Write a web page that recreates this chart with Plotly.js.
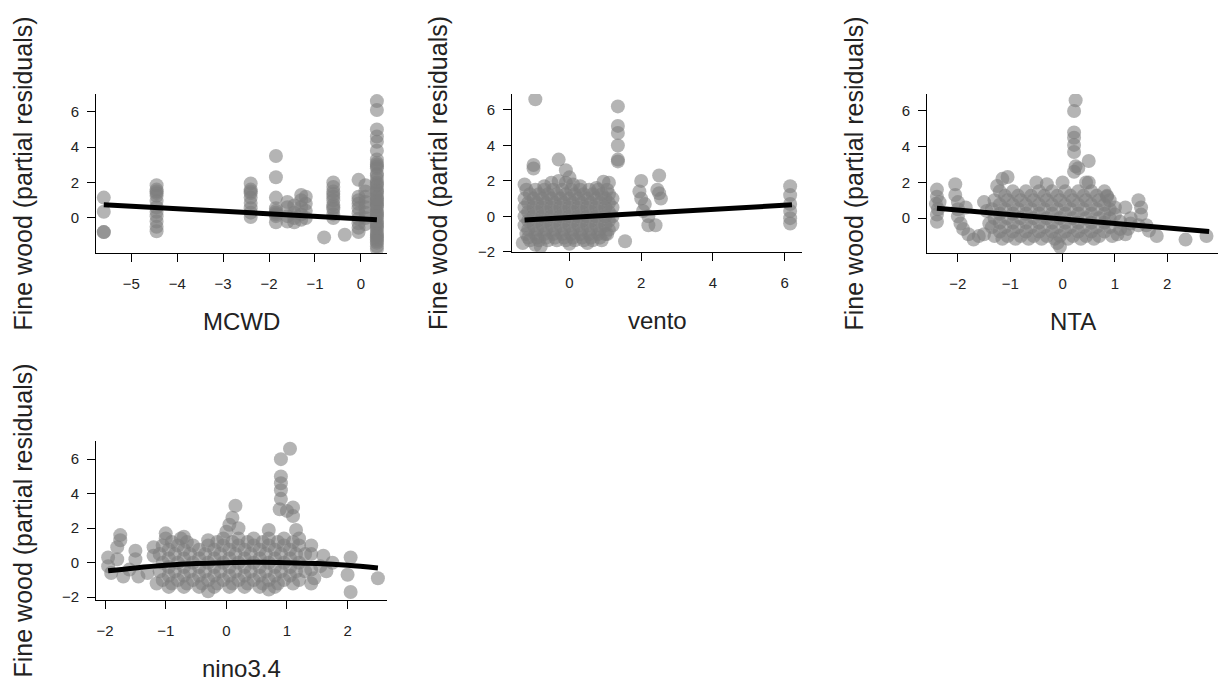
<!DOCTYPE html>
<html>
<head>
<meta charset="utf-8">
<script src="https://cdn.plot.ly/plotly-3.0.1.min.js"></script>
<style>html,body{margin:0;padding:0;background:#fff;}#chart{width:1222px;height:683px;}</style>
</head>
<body>
<div id="chart"></div>
<script>
// ---------- data ----------
const yTitle = "Fine wood (partial residuals)";
const xTitles = ["MCWD", "vento", "NTA", "nino3.4"];

// MCWD partial residuals [x, y]
const mcwdPts = [
 [-5.6,1.15],[-5.6,0.35],[-5.6,-0.8],[-5.6,-0.8],
 [-4.45,1.85],[-4.45,1.6],[-4.45,1.4],[-4.45,1.25],[-4.45,0.95],[-4.45,0.6],[-4.45,0.35],[-4.45,0.1],[-4.45,-0.2],[-4.45,-0.5],[-4.45,-0.75],[-4.45,1.5],
 [-2.4,1.95],[-2.4,1.6],[-2.4,1.4],[-2.4,1.15],[-2.4,0.85],[-2.4,0.55],[-2.4,0.3],[-2.4,0.05],[-2.4,1.5],
 [-1.85,3.5],[-1.85,2.3],[-1.85,1.15],[-1.85,0.55],[-1.85,0.3],[-1.85,0.1],[-1.85,-0.25],[-1.85,0.4],[-1.85,0.2],
 [-1.6,0.6],[-1.6,0.9],[-1.6,0.1],[-1.6,-0.2],
 [-1.45,0.3],[-1.45,0.0],[-1.45,-0.25],[-1.45,0.7],
 [-1.3,1.3],[-1.3,1.0],[-1.3,0.6],[-1.3,0.2],[-1.3,-0.1],
 [-1.2,1.2],[-1.2,0.8],[-1.2,0.4],[-1.2,0.0],
 [-0.8,-1.1],
 [-0.6,2.0],[-0.6,1.75],[-0.6,1.5],[-0.6,1.2],[-0.6,1.0],[-0.6,0.75],[-0.6,0.5],[-0.6,0.2],[-0.6,0.0],[-0.6,1.35],[-0.6,0.6],
 [-0.35,-0.95],
 [-0.05,2.15],[-0.05,1.2],[-0.05,1.0],[-0.05,0.8],[-0.05,0.55],[-0.05,0.25],[-0.05,-0.05],[-0.05,-0.3],[-0.05,-0.55],[-0.05,-0.8],
 [0.1,1.85],[0.1,1.5],[0.1,1.2],[0.1,0.9],[0.1,0.6],[0.1,0.3],[0.1,0.0],[0.1,-0.35],
 [0.35,6.6],[0.35,6.1],[0.35,5.0],[0.35,4.6],[0.35,4.3],[0.35,3.8],[0.35,3.3],[0.35,3.0],[0.35,2.8],[0.35,2.5],
 [0.35,2.2],[0.35,2.0],[0.35,1.8],[0.35,1.6],[0.35,1.4],[0.35,1.2],[0.35,1.0],[0.35,0.8],[0.35,0.6],[0.35,0.4],
 [0.35,0.2],[0.35,0.0],[0.35,-0.2],[0.35,-0.4],[0.35,-0.6],[0.35,-0.8],[0.35,-1.0],[0.35,-1.2],[0.35,-1.4],[0.35,-1.6],
 [0.35,-1.75],[0.35,2.9],[0.35,1.5],[0.35,0.9],[0.35,0.3],[0.35,-0.5],[0.35,-1.1],[0.35,1.9],[0.35,0.7],[0.35,-0.3],
 [0.35,3.1],[0.35,2.4],[0.35,1.1],[0.35,0.1],[0.35,-0.9],[0.35,-1.3]
];
const mcwdLineX = [-5.6, 0.35];
const mcwdLineY = [0.75, -0.1];

// vento partial residuals [x, y]
const ventoPts = [
 [-1.2,1.5],[-0.95,1.5],[-0.7,1.5],[-0.45,1.5],[-0.2,1.5],[0.05,1.5],[0.3,1.5],[0.55,1.5],[0.8,1.5],[1.05,1.5],
 [-1.1,1.25],[-0.85,1.25],[-0.6,1.25],[-0.35,1.25],[-0.1,1.25],[0.15,1.25],[0.4,1.25],[0.65,1.25],[0.9,1.25],[1.1,1.25],
 [-1.25,1.0],[-1.0,1.0],[-0.75,1.0],[-0.5,1.0],[-0.25,1.0],[0.0,1.0],[0.25,1.0],[0.5,1.0],[0.75,1.0],[1.0,1.0],[1.2,1.0],
 [-1.15,0.75],[-0.9,0.75],[-0.65,0.75],[-0.4,0.75],[-0.15,0.75],[0.1,0.75],[0.35,0.75],[0.6,0.75],[0.85,0.75],[1.1,0.75],
 [-1.25,0.5],[-1.0,0.5],[-0.75,0.5],[-0.5,0.5],[-0.25,0.5],[0.0,0.5],[0.25,0.5],[0.5,0.5],[0.75,0.5],[1.0,0.5],[1.2,0.5],
 [-1.15,0.25],[-0.9,0.25],[-0.65,0.25],[-0.4,0.25],[-0.15,0.25],[0.1,0.25],[0.35,0.25],[0.6,0.25],[0.85,0.25],[1.1,0.25],
 [-1.25,0.0],[-1.0,0.0],[-0.75,0.0],[-0.5,0.0],[-0.25,0.0],[0.0,0.0],[0.25,0.0],[0.5,0.0],[0.75,0.0],[1.0,0.0],[1.2,0.0],
 [-1.15,-0.25],[-0.9,-0.25],[-0.65,-0.25],[-0.4,-0.25],[-0.15,-0.25],[0.1,-0.25],[0.35,-0.25],[0.6,-0.25],[0.85,-0.25],[1.1,-0.25],
 [-1.25,-0.5],[-1.0,-0.5],[-0.75,-0.5],[-0.5,-0.5],[-0.25,-0.5],[0.0,-0.5],[0.25,-0.5],[0.5,-0.5],[0.75,-0.5],[1.0,-0.5],[1.2,-0.5],
 [-1.15,-0.75],[-0.9,-0.75],[-0.65,-0.75],[-0.4,-0.75],[-0.15,-0.75],[0.1,-0.75],[0.35,-0.75],[0.6,-0.75],[0.85,-0.75],[1.1,-0.75],
 [-1.2,-1.0],[-0.95,-1.0],[-0.7,-1.0],[-0.45,-1.0],[-0.2,-1.0],[0.05,-1.0],[0.3,-1.0],[0.55,-1.0],[0.8,-1.0],[1.05,-1.0],
 [-1.15,-1.2],[-0.9,-1.2],[-0.65,-1.2],[-0.4,-1.2],[-0.15,-1.2],[0.1,-1.2],[0.35,-1.2],[0.6,-1.2],[0.85,-1.2],
 [-1.1,-1.35],[-0.85,-1.35],[-0.6,-1.35],[-0.35,-1.35],[-0.1,-1.35],[0.15,-1.35],[0.4,-1.35],[0.65,-1.35],[0.9,-1.35],
 [-0.5,1.9],[-0.3,2.0],[-0.1,1.9],[0.1,1.8],[0.3,1.7],[-1.25,1.8],[0.95,1.95],[1.1,1.9],[0.75,1.6],[-0.7,1.7],
 [-0.8,-1.7],[-0.95,-1.6],[-1.3,-1.5],[0.0,-1.55],[0.5,-1.5],[1.0,-1.0],
 [-0.95,6.6],[-1.0,2.9],[-1.0,2.7],[-0.3,3.2],[-0.1,2.6],[0.0,2.2],
 [1.35,6.2],[1.35,5.1],[1.35,4.7],[1.35,4.0],[1.35,3.1],[1.35,3.2],[1.55,-1.4],
 [2.0,2.0],[1.95,1.4],[2.0,1.0],[2.1,0.7],[2.2,0.0],[2.2,-0.5],[2.05,0.3],
 [2.5,2.3],[2.5,1.3],[2.55,1.0],[2.4,-0.5],[2.45,1.5],
 [6.15,1.7],[6.15,1.2],[6.15,0.7],[6.15,0.3],[6.15,-0.1],[6.15,-0.4]
];
const ventoLineX = [-1.25, 6.2];
const ventoLineY = [-0.2, 0.65];

// NTA partial residuals [x, y]
const ntaPts = [
 [-2.4,1.6],[-2.4,1.2],[-2.42,0.8],[-2.38,0.5],[-2.4,0.2],[-2.4,-0.2],[-2.35,0.9],
 [-2.05,1.9],[-2.05,1.3],[-2.0,0.9],[-2.0,0.5],[-2.0,0.1],[-1.95,-0.3],[-1.9,-0.6],[-1.85,0.6],
 [-1.8,-0.9],[-1.7,-1.2],[-1.6,-1.0],[-1.5,0.9],[-1.5,-0.9],[-1.45,0.4],[-1.4,-0.3],
 [-1.2,1.5],[-0.95,1.5],[-0.7,1.5],[-0.45,1.5],[-0.2,1.5],[0.05,1.5],[0.3,1.5],[0.55,1.5],[0.8,1.5],
 [-1.1,1.25],[-0.85,1.25],[-0.6,1.25],[-0.35,1.25],[-0.1,1.25],[0.15,1.25],[0.4,1.25],[0.65,1.25],[0.85,1.25],
 [-1.3,1.0],[-1.05,1.0],[-0.8,1.0],[-0.55,1.0],[-0.3,1.0],[-0.05,1.0],[0.2,1.0],[0.45,1.0],[0.7,1.0],[0.9,1.0],
 [-1.2,0.75],[-0.95,0.75],[-0.7,0.75],[-0.45,0.75],[-0.2,0.75],[0.05,0.75],[0.3,0.75],[0.55,0.75],[0.8,0.75],
 [-1.35,0.5],[-1.1,0.5],[-0.85,0.5],[-0.6,0.5],[-0.35,0.5],[-0.1,0.5],[0.15,0.5],[0.4,0.5],[0.65,0.5],[0.9,0.5],
 [-1.2,0.25],[-0.95,0.25],[-0.7,0.25],[-0.45,0.25],[-0.2,0.25],[0.05,0.25],[0.3,0.25],[0.55,0.25],[0.8,0.25],
 [-1.3,0.0],[-1.05,0.0],[-0.8,0.0],[-0.55,0.0],[-0.3,0.0],[-0.05,0.0],[0.2,0.0],[0.45,0.0],[0.7,0.0],[0.9,0.0],
 [-1.2,-0.25],[-0.95,-0.25],[-0.7,-0.25],[-0.45,-0.25],[-0.2,-0.25],[0.05,-0.25],[0.3,-0.25],[0.55,-0.25],[0.8,-0.25],
 [-1.35,-0.5],[-1.1,-0.5],[-0.85,-0.5],[-0.6,-0.5],[-0.35,-0.5],[-0.1,-0.5],[0.15,-0.5],[0.4,-0.5],[0.65,-0.5],[0.9,-0.5],
 [-1.2,-0.75],[-0.95,-0.75],[-0.7,-0.75],[-0.45,-0.75],[-0.2,-0.75],[0.05,-0.75],[0.3,-0.75],[0.55,-0.75],[0.8,-0.75],
 [-1.3,-1.0],[-1.05,-1.0],[-0.8,-1.0],[-0.55,-1.0],[-0.3,-1.0],[-0.05,-1.0],[0.2,-1.0],[0.45,-1.0],[0.7,-1.0],[0.95,-1.0],
 [-1.15,-1.15],[-0.9,-1.15],[-0.65,-1.15],[-0.4,-1.15],[-0.15,-1.15],[0.1,-1.15],[0.35,-1.15],[0.6,-1.15],
 [-1.15,2.2],[-1.05,2.3],[-1.25,1.8],[-0.5,2.0],[-0.3,1.9],[0.0,2.0],[0.5,2.0],[-0.05,-1.6],[-0.1,-1.4],
 [0.25,6.6],[0.22,6.0],[0.22,4.8],[0.22,4.5],[0.22,4.1],[0.22,3.7],[0.25,2.9],[0.22,2.6],[0.3,2.8],
 [0.5,3.2],[0.45,2.0],[0.85,1.2],[1.0,0.6],[1.1,-0.2],[1.2,0.6],[1.2,-0.9],[1.45,1.0],[1.5,0.6],[1.5,0.2],
 [1.45,-0.4],[1.6,-0.4],[1.8,-1.0],[2.35,-1.2],[2.75,-1.0],[1.25,-0.6],[1.05,-0.9],[1.0,0.2],[1.3,0.0],
 [1.1,-0.6],[1.3,-0.3],[1.65,-0.7]
];
const ntaLineX = [-2.4, 2.8];
const ntaLineY = [0.55, -0.75];

// nino3.4 partial residuals [x, y]
const ninoPts = [
 [-1.95,0.3],[-1.95,-0.2],[-1.9,-0.6],[-1.8,0.9],[-1.75,1.6],[-1.75,1.3],[-1.8,0.2],[-1.7,-0.8],[-1.6,-0.4],
 [-1.5,0.7],[-1.5,0.2],[-1.45,-0.8],[-1.3,-0.6],[-1.2,0.9],[-1.2,0.4],[-1.15,-1.2],
 [-1.0,1.4],[-0.75,1.4],[-0.3,1.3],[-0.05,1.4],[0.2,1.4],[0.45,1.4],[0.7,1.4],[0.95,1.4],[1.2,1.4],
 [-0.9,1.2],[-0.65,1.2],[-0.15,1.2],[0.1,1.2],[0.35,1.2],[0.6,1.2],[0.85,1.2],[1.1,1.2],
 [-1.05,1.0],[-0.8,1.0],[-0.55,1.0],[-0.3,1.0],[-0.05,1.0],[0.2,1.0],[0.45,1.0],[0.7,1.0],[0.95,1.0],[1.2,1.0],
 [-0.95,0.75],[-0.7,0.75],[-0.45,0.75],[-0.2,0.75],[0.05,0.75],[0.3,0.75],[0.55,0.75],[0.8,0.75],[1.05,0.75],
 [-1.1,0.5],[-0.85,0.5],[-0.6,0.5],[-0.35,0.5],[-0.1,0.5],[0.15,0.5],[0.4,0.5],[0.65,0.5],[0.9,0.5],[1.15,0.5],[1.3,0.5],
 [-0.95,0.25],[-0.7,0.25],[-0.45,0.25],[-0.2,0.25],[0.05,0.25],[0.3,0.25],[0.55,0.25],[0.8,0.25],[1.05,0.25],
 [-1.05,0.0],[-0.8,0.0],[-0.55,0.0],[-0.3,0.0],[-0.05,0.0],[0.2,0.0],[0.45,0.0],[0.7,0.0],[0.95,0.0],[1.2,0.0],
 [-0.95,-0.25],[-0.7,-0.25],[-0.45,-0.25],[-0.2,-0.25],[0.05,-0.25],[0.3,-0.25],[0.55,-0.25],[0.8,-0.25],[1.05,-0.25],
 [-1.1,-0.5],[-0.85,-0.5],[-0.6,-0.5],[-0.35,-0.5],[-0.1,-0.5],[0.15,-0.5],[0.4,-0.5],[0.65,-0.5],[0.9,-0.5],[1.15,-0.5],[1.3,-0.5],
 [-0.95,-0.75],[-0.7,-0.75],[-0.45,-0.75],[-0.2,-0.75],[0.05,-0.75],[0.3,-0.75],[0.55,-0.75],[0.8,-0.75],[1.05,-0.75],
 [-1.05,-1.0],[-0.8,-1.0],[-0.55,-1.0],[-0.3,-1.0],[-0.05,-1.0],[0.2,-1.0],[0.45,-1.0],[0.7,-1.0],[0.95,-1.0],[1.2,-1.0],
 [-0.9,-1.2],[-0.65,-1.2],[-0.4,-1.2],[-0.15,-1.2],[0.1,-1.2],[0.35,-1.2],[0.6,-1.2],[0.85,-1.2],[1.1,-1.2],
 [-0.95,-1.4],[-0.7,-1.4],[-0.45,-1.4],[-0.2,-1.4],[0.05,-1.4],[0.3,-1.4],[0.55,-1.4],[0.8,-1.4],
 [-1.0,1.7],[-0.7,1.5],[0.0,1.8],[0.05,2.2],[0.1,2.6],[0.15,3.3],[0.2,2.0],
 [0.9,6.0],[1.05,6.6],[0.9,5.0],[0.9,4.6],[0.9,4.2],[0.9,3.7],[0.88,3.1],[1.0,3.0],[1.1,3.2],[1.1,2.7],
 [0.7,1.9],[1.15,1.9],[-0.3,-1.65],[0.7,-1.55],
 [1.4,1.0],[1.4,0.5],[1.4,-0.4],[1.4,-1.2],[1.45,-0.9],[1.6,0.4],[1.65,-0.5],[1.75,0.0],[1.55,-0.2],
 [2.05,0.3],[2.0,-0.7],[2.05,-1.7],[2.5,-0.9]
];
const ninoLineX = [-1.95, -1.5, -1.0, -0.5, 0.0, 0.5, 1.0, 1.5, 2.0, 2.5];
const ninoLineY = [-0.47, -0.3, -0.15, -0.05, 0.0, 0.02, 0.0, -0.05, -0.15, -0.3];

// ---------- drawing ----------
const W = 1222, H = 683;
const px = v => v / W;            // pixel -> paper (x)
const py = v => (H - v) / H;      // pixel -> paper (y)

// panel pixel boxes [left, right, top, bottom] and axis ranges
const panels = [
  {pts: mcwdPts,  lx: mcwdLineX,  ly: mcwdLineY,  box: [96, 387, 94, 253],   xr: [-5.77, 0.57], yr: [-1.98, 7.0],  xt: [-5,-4,-3,-2,-1,0], yt: [0,2,4,6]},
  {pts: ventoPts, lx: ventoLineX, ly: ventoLineY, box: [512, 802, 94, 252],   xr: [-1.6, 6.48],  yr: [-2.01, 6.9],  xt: [0,2,4,6],          yt: [-2,0,2,4,6]},
  {pts: ntaPts,   lx: ntaLineX,   ly: ntaLineY,   box: [927, 1218, 94, 253],  xr: [-2.59, 2.97], yr: [-1.95, 6.95], xt: [-2,-1,0,1,2],      yt: [0,2,4,6]},
  {pts: ninoPts,  lx: ninoLineX,  ly: ninoLineY,  box: [96, 387, 441, 600],   xr: [-2.15, 2.65], yr: [-2.16, 7.05], xt: [-2,-1,0,1,2],      yt: [-2,0,2,4,6]}
];

const traces = [];
const layout = {
  width: W, height: H,
  margin: {l: 0, r: 0, t: 0, b: 0},
  paper_bgcolor: "#ffffff", plot_bgcolor: "#ffffff",
  showlegend: false,
  font: {family: "Liberation Sans, Arial, sans-serif", color: "#222"},
  annotations: []
};

panels.forEach((p, i) => {
  const n = i === 0 ? "" : String(i + 1);
  traces.push({
    type: "scatter", mode: "markers",
    x: p.pts.map(d => d[0]), y: p.pts.map(d => d[1]),
    xaxis: "x" + n, yaxis: "y" + n,
    marker: {size: 14, color: "rgba(125,125,125,0.58)", line: {width: 0}},
    hoverinfo: "skip"
  });
  traces.push({
    type: "scatter", mode: "lines",
    x: p.lx, y: p.ly,
    xaxis: "x" + n, yaxis: "y" + n,
    line: {color: "#000", width: 5, shape: "spline"},
    hoverinfo: "skip"
  });
  const common = {
    showgrid: false, zeroline: false, showline: true, linecolor: "#000", linewidth: 1,
    ticks: "outside", ticklen: 8, tickcolor: "#000", tickwidth: 1,
    tickfont: {size: 15, color: "#222"}, mirror: false
  };
  layout["xaxis" + n] = Object.assign({}, common, {
    domain: [px(p.box[0]), px(p.box[1])], range: p.xr, anchor: "y" + n,
    tickvals: p.xt, ticklabelstandoff: 9
  });
  layout["yaxis" + n] = Object.assign({}, common, {
    domain: [py(p.box[3]), py(p.box[2])], range: p.yr, anchor: "x" + n,
    tickvals: p.yt, ticklabelstandoff: 5
  });
  // x title
  layout.annotations.push({
    text: xTitles[i], xref: "paper", yref: "paper",
    x: px((p.box[0] + p.box[1]) / 2), y: py(p.box[3] + 68),
    xanchor: "center", yanchor: "middle", showarrow: false,
    font: {size: 24, color: "#222"}
  });
  // y title
  layout.annotations.push({
    text: yTitle, xref: "paper", yref: "paper", textangle: -90,
    x: px(p.box[0] - 74), y: py((p.box[2] + p.box[3]) / 2),
    xanchor: "center", yanchor: "middle", showarrow: false,
    font: {size: 25, color: "#222"}
  });
});

Plotly.newPlot("chart", traces, layout, {displayModeBar: false, staticPlot: true});
</script>
</body>
</html>
